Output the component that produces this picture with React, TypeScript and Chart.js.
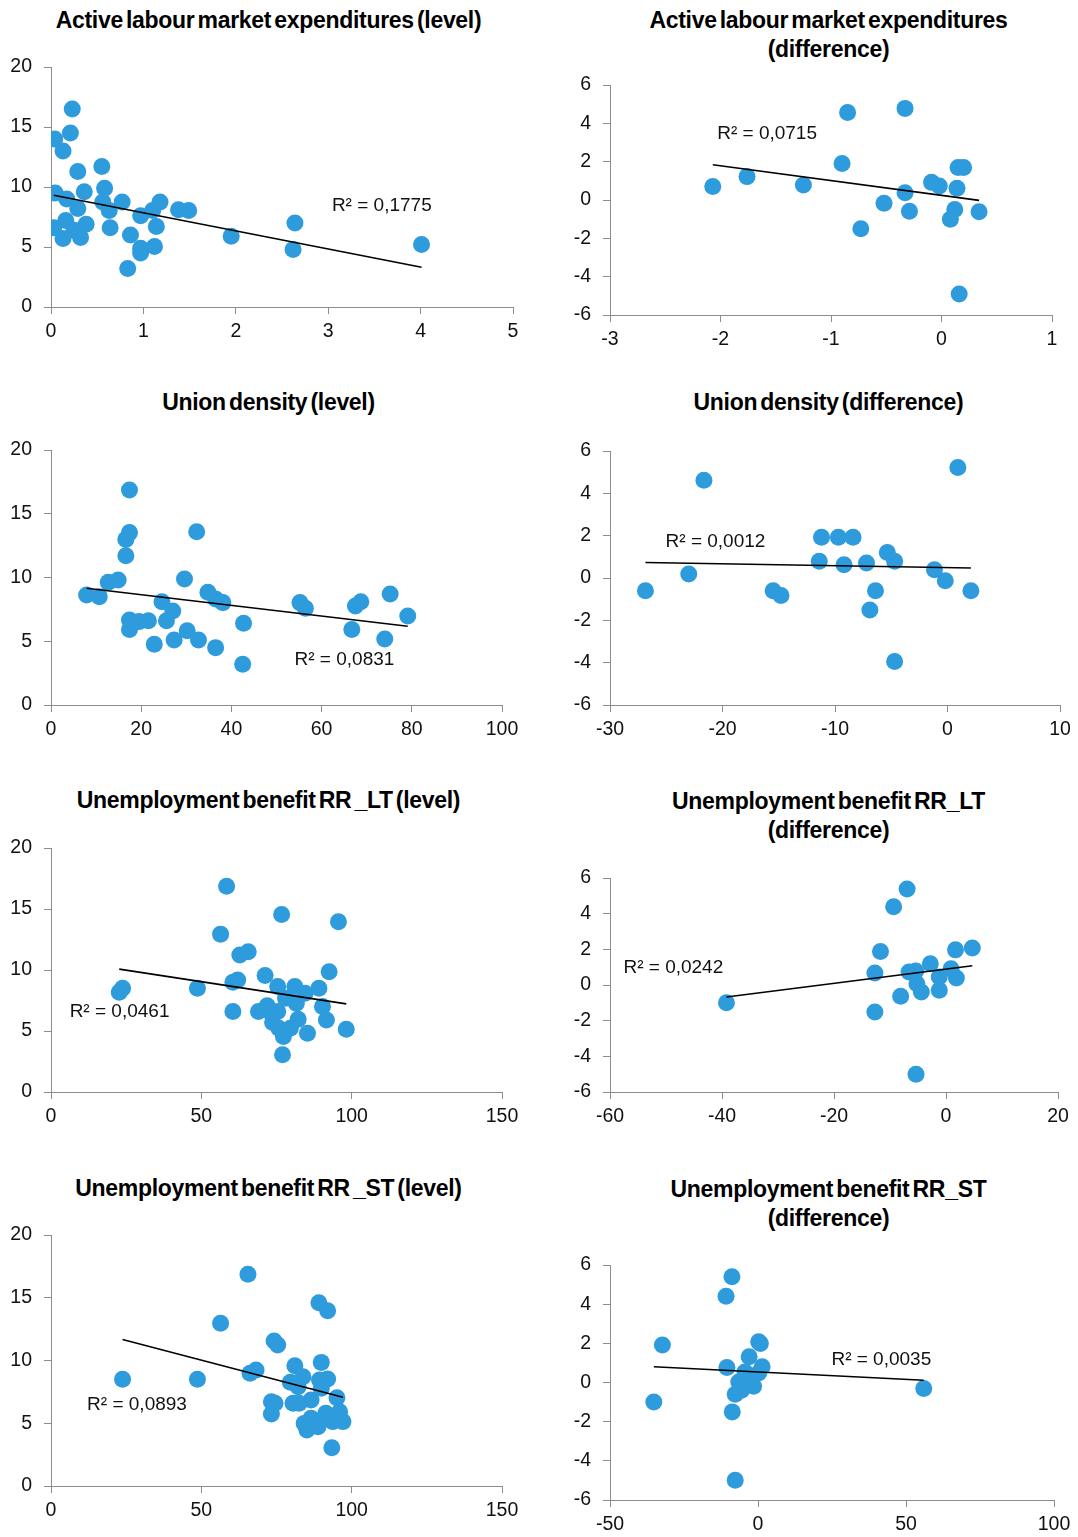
import React, { useEffect, useRef } from 'react';
import { Chart, registerables } from 'chart.js';
Chart.register(...registerables);

// ---------- DATA ----------
// Active labour market expenditures (level)
const almLevelX = [0.04, 0.23, 0.21, 0.13, 0.29, 0.55, 0.045, 0.36, 0.58, 0.17, 0.56, 0.77, 1.18, 0.29, 0.63, 1.10, 1.38, 1.49, 0.97, 0.16, 0.38, 0.03, 0.25, 0.64, 1.14, 0.86, 1.95, 0.13, 0.32, 0.97, 0.97, 1.12, 2.64, 2.62, 4.01, 0.83];
const almLevelY = [14.0, 16.5, 14.5, 13.0, 11.3, 11.7, 9.5, 9.6, 9.9, 9.0, 8.75, 8.75, 8.75, 8.2, 8.05, 8.05, 8.1, 8.05, 7.6, 7.2, 6.9, 6.6, 6.4, 6.6, 6.7, 6.0, 5.9, 5.7, 5.8, 4.9, 4.5, 5.05, 7.0, 4.8, 5.2, 3.2];
// Active labour market expenditures (difference)
const almDiffX = [-2.07, -1.76, -1.25, -0.90, -0.85, -0.73, -0.52, -0.33, -0.33, -0.29, -0.09, -0.02, 0.14, 0.15, 0.20, 0.12, 0.08, 0.34, 0.16];
const almDiffY = [0.70, 1.22, 0.78, 1.91, 4.57, -1.50, -0.17, 4.78, 0.38, -0.59, 0.92, 0.73, 0.61, 1.70, 1.70, -0.49, -1.0, -0.61, -4.90];
// Union density (level)
const udLevelX = [7.9, 10.7, 12.7, 14.9, 17.4, 17.4, 16.6, 16.6, 17.4, 17.4, 19.5, 21.6, 22.9, 24.6, 25.6, 27.0, 27.3, 29.6, 30.2, 32.3, 32.7, 34.8, 36.5, 38.1, 36.5, 42.7, 42.5, 55.2, 56.4, 67.5, 68.7, 66.7, 75.2, 74.0, 79.1];
const udLevelY = [8.63, 8.5, 9.62, 9.80, 16.86, 13.52, 12.99, 11.71, 6.67, 5.93, 6.54, 6.61, 4.76, 8.10, 6.61, 7.37, 5.10, 9.88, 5.83, 13.59, 5.10, 8.84, 8.31, 8.03, 4.50, 6.41, 3.19, 8.03, 7.58, 7.76, 8.10, 5.93, 8.71, 5.18, 6.98];
// Union density (difference)
const udDiffX = [-26.85, -23.0, -21.65, -15.5, -14.8, -11.4, -11.2, -9.7, -8.4, -9.2, -7.2, -6.4, -6.9, -5.35, -4.7, -4.7, -1.16, -0.2, 0.92, 2.08];
const udDiffY = [-0.60, 0.19, 4.62, -0.60, -0.83, 0.79, 1.92, 1.92, 1.92, 0.63, 0.71, -0.60, -1.51, 1.21, 0.79, -3.95, 0.39, -0.13, 5.22, -0.60];
// Unemployment benefit RR_LT (level)
const rrltLevelX = [22.7, 23.8, 48.7, 56.4, 58.4, 60.5, 62.1, 60.5, 62.8, 65.6, 69.0, 71.2, 71.9, 73.3, 73.7, 75.4, 76.7, 77.0, 75.4, 75.8, 77.3, 79.6, 81.1, 81.6, 78.0, 82.2, 84.5, 85.3, 89.1, 90.3, 91.6, 92.5, 95.6, 98.2];
const rrltLevelY = [8.17, 8.50, 8.50, 12.94, 16.87, 8.99, 9.18, 6.59, 11.23, 11.50, 6.59, 9.54, 7.06, 6.46, 5.69, 8.64, 14.55, 3.05, 6.59, 5.23, 4.55, 5.23, 8.64, 7.27, 7.68, 5.97, 8.09, 4.82, 8.50, 7.00, 5.91, 9.86, 13.95, 5.15];
// Unemployment benefit RR_LT (difference)
const rrltDiffX = [-39.2, -12.7, -12.7, -11.7, -9.35, -6.95, -8.1, -6.6, -5.4, -5.2, -4.4, -2.8, -1.2, -1.2, 0.9, 1.7, 1.85, 4.7, -5.35];
const rrltDiffY = [-1.0, 0.67, -1.51, 1.88, 4.39, 5.38, -0.63, 0.73, 0.78, 0.07, -0.39, 1.19, -0.30, 0.45, 0.91, 1.97, 0.39, 2.07, -5.0];
// Unemployment benefit RR_ST (level)
const rrstLevelX = [23.8, 48.7, 56.4, 65.5, 66.2, 68.2, 73.3, 74.5, 73.3, 74.2, 75.4, 81.1, 79.6, 80.5, 82.2, 83.8, 84.2, 85.1, 86.5, 89.1, 92.0, 89.9, 89.3, 92.0, 89.9, 91.4, 88.8, 93.4, 93.7, 95.1, 96.0, 97.1, 82.5, 86.5];
const rrstLevelY = [8.50, 8.50, 12.96, 16.87, 8.98, 9.24, 6.72, 6.59, 5.74, 11.55, 11.23, 9.59, 8.26, 6.59, 7.91, 8.71, 4.99, 4.46, 6.85, 14.61, 13.97, 9.85, 8.45, 8.53, 7.78, 5.79, 4.73, 3.05, 5.13, 7.04, 5.92, 5.13, 6.6, 5.4];
// Unemployment benefit RR_ST (difference)
const rrstDiffX = [-35.2, -32.3, -10.5, -10.8, -8.8, -8.7, -7.7, -7.7, -5.6, -6.5, -4.4, -3.0, -2.7, -1.5, 0.23, 0.8, 1.4, 0.23, 56.0];
const rrstDiffY = [-0.99, 1.91, 0.77, 4.41, 5.40, -1.50, -4.99, -0.60, -0.39, 0.03, 0.54, 1.31, 0.12, -0.19, 2.08, 1.99, 0.80, 0.49, -0.31];

const titles = [
  ['Active labour market expenditures (level)'],
  ['Active labour market expenditures', '(difference)'],
  ['Union density (level)'],
  ['Union density (difference)'],
  ['Unemployment benefit RR _LT (level)'],
  ['Unemployment benefit RR_LT', '(difference)'],
  ['Unemployment benefit RR _ST (level)'],
  ['Unemployment benefit RR_ST', '(difference)'],
];
const r2Labels = ['R² = 0,1775', 'R² = 0,0715', 'R² = 0,0831', 'R² = 0,0012', 'R² = 0,0461', 'R² = 0,0242', 'R² = 0,0893', 'R² = 0,0035'];
// label anchor (left edge, vertical middle) in data units
const r2AnchorX = [3.04, -2.03, 54.0, -25.06, 6.2, -57.6, 12.0, 24.8];
const r2AnchorY = [8.4, 3.48, 3.53, 1.71, 6.6, 0.99, 6.45, 1.15];
// axis ranges
const xMins = [0, -3, 0, -30, 0, -60, 0, -50];
const xMaxs = [5, 1, 100, 10, 150, 20, 150, 100];
const xSteps = [1, 1, 20, 10, 50, 20, 50, 50];
const yMins = [0, -6, 0, -6, 0, -6, 0, -6];
const yMaxs = [20, 6, 20, 6, 20, 6, 20, 6];
const ySteps = [5, 2, 5, 2, 5, 2, 5, 2];

const seriesX = [almLevelX, almDiffX, udLevelX, udDiffX, rrltLevelX, rrltDiffX, rrstLevelX, rrstDiffX];
const seriesY = [almLevelY, almDiffY, udLevelY, udDiffY, rrltLevelY, rrltDiffY, rrstLevelY, rrstDiffY];

// ---------- LAYOUT (pixels) ----------
const plotBoxes = [
  { l: 51, r: 513, t: 67, b: 307 },
  { l: 610, r: 1052, t: 85, b: 315 },
  { l: 51, r: 502, t: 450, b: 705 },
  { l: 610, r: 1060, t: 451, b: 705 },
  { l: 51, r: 502, t: 848, b: 1092 },
  { l: 610, r: 1058, t: 878, b: 1092 },
  { l: 51, r: 502, t: 1235, b: 1486 },
  { l: 610, r: 1054, t: 1265, b: 1500 },
];
const titleCenters = [
  { x: 268.5, y: 20.7 }, { x: 828.5, y: 20.7 },
  { x: 268.5, y: 402.7 }, { x: 828.5, y: 402.7 },
  { x: 268.5, y: 800.7 }, { x: 828.5, y: 801.5 },
  { x: 268.5, y: 1188.3 }, { x: 828.5, y: 1189.3 },
];

const BLUE = '#2E9BDC';
const AXIS = '#8c8c8c';
const TICK_FONT = { family: '"Liberation Sans", Arial, sans-serif', size: 19.5 };
const Y_W = 50, X_H = 40, PAD_T = 28, PAD_R = 30;

function linReg(xs: number[], ys: number[]) {
  const n = xs.length;
  const mx = xs.reduce((a, b) => a + b, 0) / n;
  const my = ys.reduce((a, b) => a + b, 0) / n;
  let sxy = 0, sxx = 0;
  for (let i = 0; i < n; i++) { sxy += (xs[i] - mx) * (ys[i] - my); sxx += (xs[i] - mx) ** 2; }
  const slope = sxy / sxx;
  return { slope, intercept: my - slope * mx };
}

function Panel({ idx }: { idx: number }) {
  const ref = useRef<HTMLCanvasElement | null>(null);
  const box = plotBoxes[idx];
  const w = box.r - box.l + Y_W + PAD_R;
  const h = box.b - box.t + PAD_T + X_H;
  useEffect(() => {
    if (!ref.current) return;
    const xs = seriesX[idx], ys = seriesY[idx];
    const pts = xs.map((x, i) => ({ x, y: ys[i] }));
    const { slope, intercept } = linReg(xs, ys);
    const x0 = Math.min(...xs), x1 = Math.max(...xs);
    const trend = [{ x: x0, y: intercept + slope * x0 }, { x: x1, y: intercept + slope * x1 }];
    const r2Plugin = {
      id: 'r2label',
      afterDatasetsDraw(chart: any) {
        const c = chart.ctx;
        c.save();
        c.font = '19px "Liberation Sans", Arial, sans-serif';
        c.fillStyle = '#111';
        c.textAlign = 'left';
        c.textBaseline = 'middle';
        c.fillText(r2Labels[idx], chart.scales.x.getPixelForValue(r2AnchorX[idx]), chart.scales.y.getPixelForValue(r2AnchorY[idx]));
        c.restore();
      },
    };
    const axisCommon = (min: number, max: number, step: number, pad: number) => ({
      type: 'linear' as const,
      min, max,
      ticks: { stepSize: step, padding: pad, color: '#111', font: TICK_FONT, callback: (v: any) => String(v) },
      grid: { drawOnChartArea: false, drawTicks: true, tickLength: 7, color: AXIS, lineWidth: 1 },
      border: { color: AXIS, width: 1 },
    });
    const chart = new Chart(ref.current, {
      type: 'scatter',
      data: {
        datasets: [
          { type: 'line', data: trend, borderColor: '#000', borderWidth: 1.6, pointRadius: 0, fill: false, order: 0 } as any,
          { type: 'scatter', data: pts, backgroundColor: BLUE, borderWidth: 0, pointRadius: 8.5, pointHoverRadius: 8.5, order: 1 } as any,
        ],
      },
      options: {
        responsive: false,
        animation: false,
        events: [],
        layout: { padding: { left: 0, right: PAD_R, top: PAD_T, bottom: 0 } },
        plugins: { legend: { display: false }, tooltip: { enabled: false }, title: { display: false } },
        scales: {
          x: { ...axisCommon(xMins[idx], xMaxs[idx], xSteps[idx], 6), afterFit: (s: any) => { s.height = X_H; } },
          y: { ...axisCommon(yMins[idx], yMaxs[idx], ySteps[idx], 12), afterFit: (s: any) => { s.width = Y_W; } },
        },
      } as any,
      plugins: [r2Plugin],
    });
    return () => chart.destroy();
  }, [idx]);
  const tc = titleCenters[idx];
  const lines = titles[idx];
  const LH = 28.5;
  return (
    <>
      <div style={{
        position: 'absolute', left: tc.x - 270, width: 540, top: tc.y - 14.3, textAlign: 'center',
        fontFamily: '"Liberation Sans", Arial, sans-serif', fontWeight: 700, fontSize: 23, lineHeight: `${LH}px`,
        letterSpacing: '-0.3px', wordSpacing: '-3px', color: '#000', whiteSpace: 'nowrap',
      }}>
        {lines.map((l, i) => <div key={i}>{l}</div>)}
      </div>
      <canvas ref={ref} width={w} height={h}
        style={{ position: 'absolute', left: box.l - Y_W, top: box.t - PAD_T, width: w, height: h }} />
    </>
  );
}

export default function App() {
  return (
    <div style={{ position: 'absolute', left: 0, top: 0, width: 1078, height: 1537, background: '#fff', overflow: 'hidden' }}>
      {plotBoxes.map((_, i) => <Panel key={i} idx={i} />)}
    </div>
  );
}
